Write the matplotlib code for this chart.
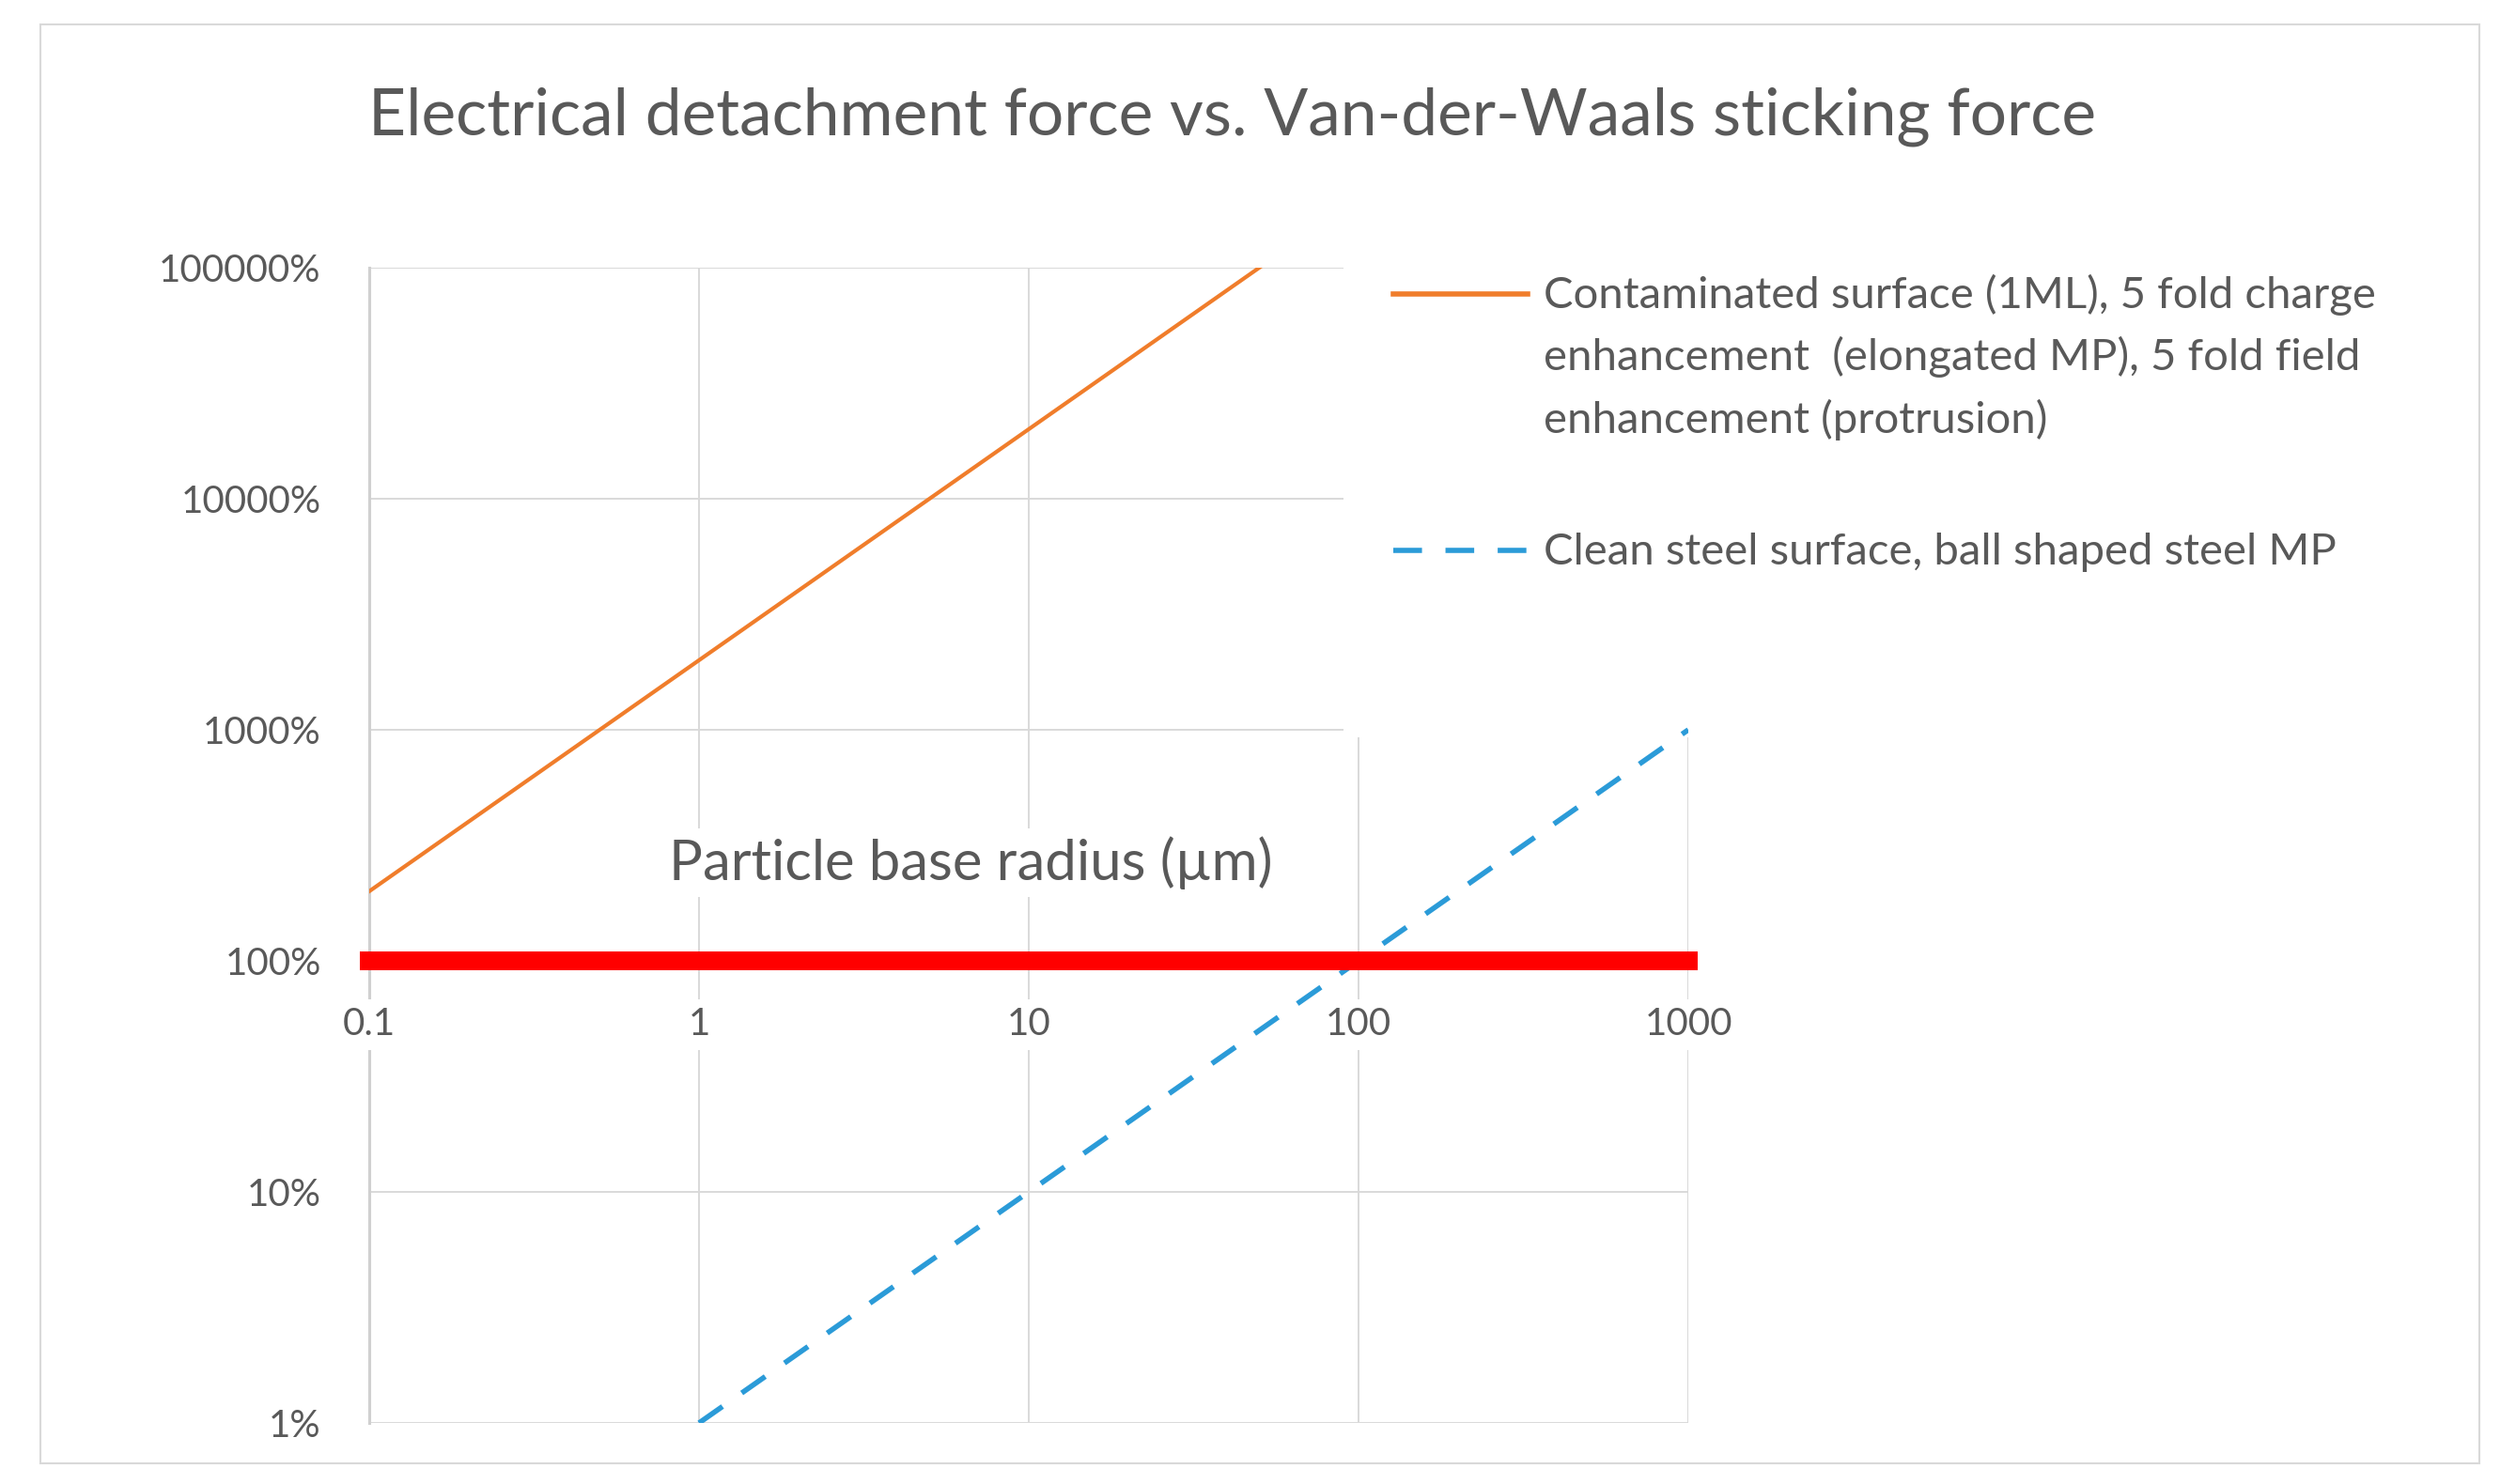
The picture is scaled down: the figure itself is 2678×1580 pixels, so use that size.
import matplotlib.pyplot as plt
from matplotlib.lines import Line2D
from matplotlib.patches import Rectangle

plt.rcParams['font.family'] = ['Lato', 'DejaVu Sans']

# data (ratio as fraction: 1 = 100 %)
radius = [0.1, 1, 10, 100, 1000]
contaminated = [2, 20, 200, 2000, 20000]
clean_radius = [1, 10, 100, 1000]
clean_steel = [0.01, 0.1, 1, 10]
threshold_x = [0.1, 1000]
threshold = [1, 1]

x_ticks = [0.1, 1, 10, 100, 1000]
x_tick_labels = ["0.1", "1", "10", "100", "1000"]
y_ticks = [0.01, 0.1, 1, 10, 100, 1000]
y_tick_labels = ["1%", "10%", "100%", "1000%", "10000%", "100000%"]

label_contaminated = ["Contaminated surface (1ML), 5 fold charge",
                      "enhancement  (elongated MP), 5 fold field",
                      "enhancement (protrusion)"]
label_clean = "Clean steel surface, ball shaped steel MP"

W, H = 2678, 1580
fig = plt.figure(figsize=(W / 100, H / 100), dpi=100)


def fx(px):
    return px / W


def fy(py):
    return 1 - py / H


grey_txt = "#595959"
orange = "#F07D2B"
blue = "#2B9BD8"
dash = (0, (5.5, 4.5))

ax = fig.add_axes([fx(393), fy(1515), fx(1797) - fx(393), fy(285) - fy(1515)])
ax.set_xscale("log")
ax.set_yscale("log")
ax.set_xlim(0.1, 1000)
ax.set_ylim(0.01, 1000)
ax.minorticks_off()
ax.grid(True, color="#D9D9D9", lw=1.4)
for s in ["top", "right", "bottom"]:
    ax.spines[s].set_visible(False)
ax.spines["left"].set_color("#D0D0D0")
ax.spines["left"].set_linewidth(2.2)

ax.set_xticks(x_ticks)
ax.set_xticklabels([])
ax.tick_params(axis="x", length=0)
ax.set_yticks(y_ticks, y_tick_labels)
ax.tick_params(axis="y", length=0, pad=37, labelsize=29, labelcolor=grey_txt)

ax.plot(radius, contaminated, color=orange, lw=3.0, zorder=3)
ax.plot(clean_radius, clean_steel, color=blue, lw=4.0, ls=dash, zorder=3)
ax.plot(threshold_x, threshold, color="#FF0000", lw=14.4, solid_capstyle="projecting",
        clip_on=False, zorder=4)

# white legend area hides the gridlines behind it
ax.add_patch(Rectangle((fx(1430), fy(785)), fx(2625) - fx(1430), fy(270) - fy(785),
                       transform=fig.transFigure, facecolor="white", edgecolor="none",
                       zorder=1.8, clip_on=False))

for x, lab in zip(x_ticks, x_tick_labels):
    ax.annotate(lab, xy=(x, 1), xytext=(0, -57), textcoords="offset points",
                ha="center", va="baseline", fontsize=29, color=grey_txt,
                bbox=dict(fc="white", ec="none", pad=6), zorder=5)

ax.text(0.456, 0.470, "Particle base radius (µm)", transform=ax.transAxes,
        ha="center", va="baseline", fontsize=43, color=grey_txt,
        bbox=dict(fc="white", ec="none", pad=6), zorder=5)

fig.text(fx(1311), fy(143), "Electrical detachment force vs. Van-der-Waals sticking force",
         ha="center", va="baseline", fontsize=50, color=grey_txt)

# legend
fig.add_artist(Line2D([fx(1483), fx(1626)], [fy(313), fy(313)], color=orange, lw=4.0))
for i, line in enumerate(label_contaminated):
    fig.text(fx(1643), fy(328 + i * 66.5), line, ha="left", va="baseline",
             fontsize=34, color=grey_txt)
fig.add_artist(Line2D([fx(1483), fx(1626)], [fy(586), fy(586)], color=blue, lw=4.0,
                      ls=dash))
fig.text(fx(1643), fy(601), label_clean, ha="left", va="baseline",
         fontsize=34, color=grey_txt)

fig.add_artist(Rectangle((fx(43), fy(1558)), fx(2639) - fx(43), fy(26) - fy(1558),
                         transform=fig.transFigure, fill=False, edgecolor="#D9D9D9", lw=1.5))

fig.savefig("out.png", dpi=100, facecolor="white")
